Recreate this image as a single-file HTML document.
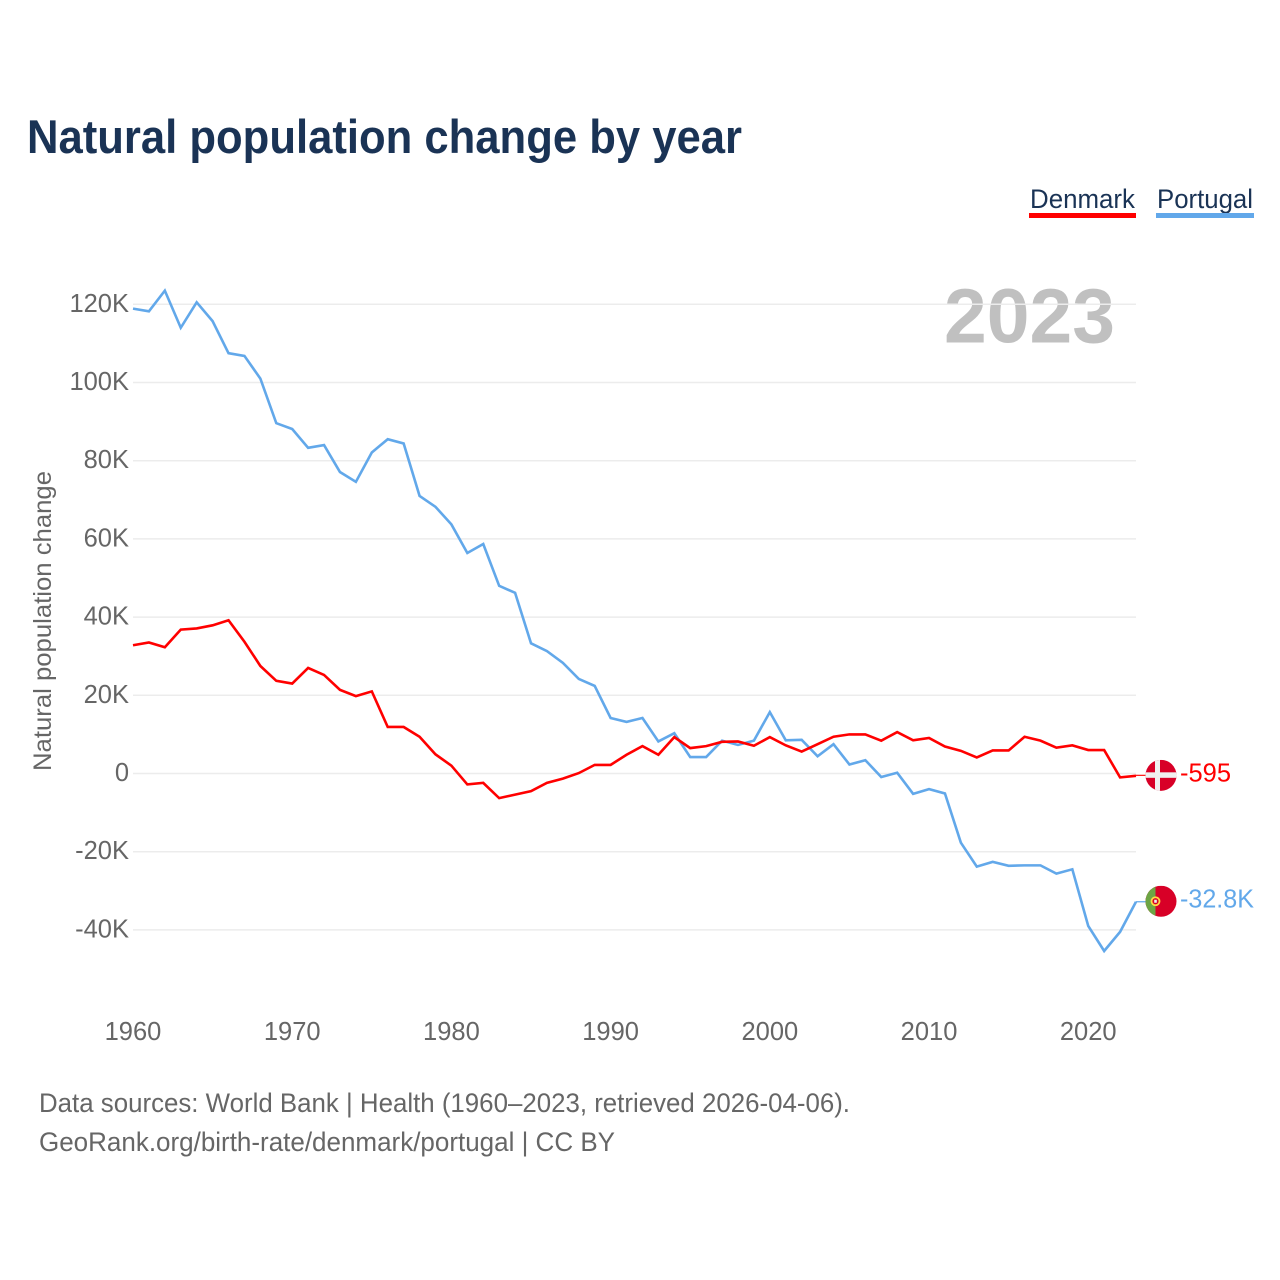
<!DOCTYPE html>
<html lang="en">
<head>
<meta charset="utf-8">
<title>Natural population change by year</title>
<style>
  html, body { margin: 0; padding: 0; background: #fff; }
  svg { display: block; font-family: "Liberation Sans", sans-serif; }
</style>
</head>
<body>
<svg id="chart" xmlns="http://www.w3.org/2000/svg" width="1280" height="1280" viewBox="0 0 1280 1280">
  <defs>
    <clipPath id="flag-clip-dk"><circle id="clip-dk" r="15.5"></circle></clipPath>
    <clipPath id="flag-clip-pt"><circle id="clip-pt" r="15.5"></circle></clipPath>
  </defs>
  <rect width="1280" height="1280" fill="#fff"></rect>
  <text x="27" y="153" font-size="47" font-weight="700" fill="#1a3355" textLength="715" lengthAdjust="spacingAndGlyphs">Natural population change by year</text>

  <text x="1030" y="208" font-size="27" fill="#1a3355" textLength="105" lengthAdjust="spacingAndGlyphs">Denmark</text>
  <rect x="1029" y="213" width="107" height="5" fill="#ff0000"></rect>
  <text x="1157" y="208" font-size="27" fill="#1a3355" textLength="96" lengthAdjust="spacingAndGlyphs">Portugal</text>
  <rect x="1156" y="213" width="98" height="5" fill="#62a8ea"></rect>

  <text x="944" y="342.5" font-size="77" font-weight="700" fill="#c0c0c0" textLength="171" lengthAdjust="spacingAndGlyphs">2023</text>

  <g id="grid"></g>
  <g id="y-labels"></g>
  <g id="x-labels"></g>

  <text transform="translate(51 771) rotate(-90)" font-size="25" fill="#666666" textLength="300" lengthAdjust="spacingAndGlyphs">Natural population change</text>

  <g id="series"></g>
  <g id="flags"></g>

  <text x="39" y="1112" font-size="27" fill="#666666" textLength="811" lengthAdjust="spacingAndGlyphs">Data sources: World Bank | Health (1960–2023, retrieved 2026-04-06).</text>
  <text x="39" y="1151" font-size="27" fill="#666666" textLength="576" lengthAdjust="spacingAndGlyphs">GeoRank.org/birth-rate/denmark/portugal | CC BY</text>
</svg>
<script>
const years = [1960,1961,1962,1963,1964,1965,1966,1967,1968,1969,1970,1971,1972,1973,1974,1975,1976,1977,1978,1979,1980,1981,1982,1983,1984,1985,1986,1987,1988,1989,1990,1991,1992,1993,1994,1995,1996,1997,1998,1999,2000,2001,2002,2003,2004,2005,2006,2007,2008,2009,2010,2011,2012,2013,2014,2015,2016,2017,2018,2019,2020,2021,2022,2023];
const denmark = [32.8,33.5,32.3,36.8,37.1,37.9,39.2,33.7,27.5,23.7,23,27,25.2,21.4,19.8,21,11.9,11.9,9.4,4.9,2,-2.8,-2.4,-6.3,-5.4,-4.5,-2.4,-1.3,0.1,2.2,2.2,4.8,7,4.8,9.3,6.5,7,8.1,8.2,7.1,9.3,7.2,5.6,7.5,9.4,10,10,8.4,10.6,8.5,9.1,6.9,5.8,4.1,5.9,5.9,9.4,8.4,6.6,7.2,6,6,-1,-0.595];
const portugal = [118.9,118.2,123.5,114,120.5,115.7,107.5,106.8,101,89.6,88.1,83.3,84,77.1,74.6,82.1,85.5,84.4,71,68.2,63.7,56.4,58.7,48,46.2,33.3,31.3,28.3,24.2,22.4,14.2,13.2,14.2,8.2,10.3,4.2,4.2,8.4,7.3,8.4,15.7,8.5,8.6,4.4,7.5,2.3,3.4,-0.9,0.2,-5.2,-4,-5.1,-17.7,-23.8,-22.6,-23.6,-23.5,-23.5,-25.6,-24.5,-39,-45.4,-40.5,-32.8];
const yTicks = [120,100,80,60,40,20,0,-20,-40];
const yTickLabels = ["120K","100K","80K","60K","40K","20K","0","-20K","-40K"];
const xTicks = [1960,1970,1980,1990,2000,2010,2020];
const endLabels = ["-595","-32.8K"];

const NS = "http://www.w3.org/2000/svg";
function xScale(year) { return 133 + (year - 1960) * (1136 - 133) / 63; }
function yScale(k) { return 773.5 - k * 3.91; }
function make(tag, attrs, parent) {
  const el = document.createElementNS(NS, tag);
  for (const key in attrs) el.setAttribute(key, attrs[key]);
  parent.appendChild(el);
  return el;
}

const gridGroup = document.getElementById("grid");
const yLabelGroup = document.getElementById("y-labels");
const xLabelGroup = document.getElementById("x-labels");
const seriesGroup = document.getElementById("series");
const flagGroup = document.getElementById("flags");

yTicks.forEach(function (tick, i) {
  const line = make("line", { x1: 133, x2: 1136, y1: yScale(tick), y2: yScale(tick), stroke: "#ececec", "stroke-width": 1.5 }, gridGroup);
  
  
  const label = make("text", { x: 129, y: yScale(tick) + 7.5, "text-anchor": "end", "font-size": 25.5, fill: "#666666" }, yLabelGroup);
  
  
  label.textContent = yTickLabels[i];
});

xTicks.forEach(function (tick) {
  const label = make("text", { x: xScale(tick), y: 1040, "text-anchor": "middle", "font-size": 25.5, fill: "#666666" }, xLabelGroup);
  
  
  label.textContent = String(tick);
});

function linePoints(values) {
  return values.map(function (v, i) { return xScale(years[i]).toFixed(2) + "," + yScale(v).toFixed(2); }).join(" ");
}

const portugalLine = make("polyline", { points: linePoints(portugal), fill: "none", stroke: "#62a8ea", "stroke-width": 2.6, "stroke-linejoin": "miter" }, seriesGroup);


const denmarkLine = make("polyline", { points: linePoints(denmark), fill: "none", stroke: "#ff0000", "stroke-width": 2.6, "stroke-linejoin": "miter" }, seriesGroup);



const lastYear = years[years.length - 1];
const flagX = xScale(lastYear) + 25;
const dkY = yScale(denmark[denmark.length - 1]);
const ptY = yScale(portugal[portugal.length - 1]);

const dkConnector = make("line", { x1: xScale(lastYear), x2: flagX, y1: dkY - 0.5, y2: dkY - 0.5, stroke: "#ff0000", "stroke-width": 1.2 }, flagGroup);


const ptConnector = make("line", { x1: xScale(lastYear), x2: flagX, y1: ptY, y2: ptY, stroke: "#62a8ea", "stroke-width": 1.2 }, flagGroup);



document.getElementById("clip-dk").setAttribute("cx", flagX);
document.getElementById("clip-dk").setAttribute("cy", dkY - 0.5);
document.getElementById("clip-pt").setAttribute("cx", flagX);
document.getElementById("clip-pt").setAttribute("cy", ptY - 0.5);

const dkFlag = make("g", { "clip-path": "url(#flag-clip-dk)" }, flagGroup);


make("rect", { x: flagX - 16, y: dkY - 16, width: 32, height: 32, fill: "#d80027" }, dkFlag);
make("rect", { x: flagX - 6, y: dkY - 16, width: 5, height: 32, fill: "#f0f0f0" }, dkFlag);
make("rect", { x: flagX - 16, y: dkY - 3.5, width: 32, height: 5.5, fill: "#f0f0f0" }, dkFlag);

const ptFlag = make("g", { "clip-path": "url(#flag-clip-pt)" }, flagGroup);


make("rect", { x: flagX - 16, y: ptY - 16, width: 32, height: 32, fill: "#d80027" }, ptFlag);
make("rect", { x: flagX - 16, y: ptY - 16, width: 10.5, height: 32, fill: "#6da544" }, ptFlag);
make("circle", { cx: flagX - 5.5, cy: ptY - 0.5, r: 4, fill: "#d80027", stroke: "#ffda44", "stroke-width": 1.8 }, ptFlag);
make("rect", { x: flagX - 6.8, y: ptY - 2, width: 2.6, height: 3, fill: "#f0f0f0" }, ptFlag);

const dkLabel = make("text", { x: 1180, y: dkY + 5.5, "font-size": 25.5, fill: "#ff0000", textLength: 51, lengthAdjust: "spacingAndGlyphs" }, flagGroup);


dkLabel.textContent = endLabels[0];
const ptLabel = make("text", { x: 1180, y: ptY + 6, "font-size": 25.5, fill: "#62a8ea", textLength: 74, lengthAdjust: "spacingAndGlyphs" }, flagGroup);


ptLabel.textContent = endLabels[1];
</script>
</body>
</html>
